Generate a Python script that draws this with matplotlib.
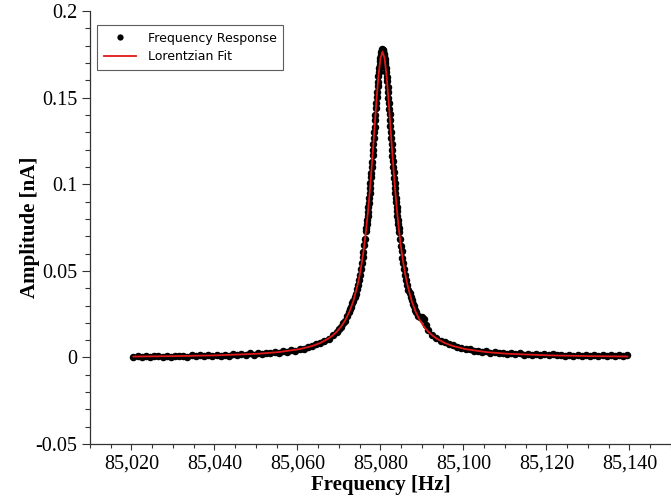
import matplotlib.pyplot as plt
from matplotlib.ticker import FixedLocator, MultipleLocator, FuncFormatter

freq_left_tail = [85020.5, 85021.5, 85022.5, 85023.5, 85024.5, 85025.5, 85026.5, 85027.5, 85028.5, 85029.5,
                  85030.5, 85031.5, 85032.5, 85033.5, 85034.5, 85035.5, 85036.5, 85037.5, 85038.5, 85039.5,
                  85040.5, 85041.5, 85042.5, 85043.5, 85044.5, 85045.5, 85046.5, 85047.5, 85048.5, 85049.5,
                  85050.5, 85051.5, 85052.5, 85053.5, 85054.5, 85055.5, 85056.5, 85057.5, 85058.5, 85059.5,
                  85060.5, 85061.5, 85062.5, 85063.5, 85064.5, 85065.5, 85066.5, 85067.5, 85068.5, 85069.5]
amp_left_tail = [0.0002, 0.0008, 0.0004, 0.0009, 0.0003, 0.0007, 0.0011, 0.0004, 0.0009, 0.0005,
                 0.0011, 0.0006, 0.0010, 0.0005, 0.0012, 0.0008, 0.0014, 0.0007, 0.0013, 0.0009,
                 0.0015, 0.0010, 0.0017, 0.0011, 0.0018, 0.0013, 0.0020, 0.0015, 0.0023, 0.0017,
                 0.0025, 0.0020, 0.0028, 0.0024, 0.0032, 0.0027, 0.0037, 0.0033, 0.0044, 0.0040,
                 0.0051, 0.0050, 0.0062, 0.0064, 0.0077, 0.0082, 0.0098, 0.0108, 0.0130, 0.0148]

freq_left_mid = [85070.0, 85070.5, 85071.0, 85071.5, 85072.0, 85072.5, 85072.75, 85073.0, 85073.25,
                 85073.5, 85073.75, 85074.0, 85074.25, 85074.5, 85074.75, 85075.0, 85075.25, 85075.5,
                 85075.7, 85075.9, 85076.1, 85076.3]
amp_left_mid = [0.0165, 0.0176, 0.0197, 0.0213, 0.0239, 0.0261, 0.0279, 0.0292, 0.0312,
                0.0327, 0.0350, 0.0368, 0.0395, 0.0417, 0.0448, 0.0475, 0.0512, 0.0544,
                0.0579, 0.0609, 0.0648, 0.0684]

freq_peak = [85076.5, 85076.6, 85076.7, 85076.8, 85076.9, 85077.0, 85077.1, 85077.2, 85077.3, 85077.4,
             85077.5, 85077.6, 85077.7, 85077.8, 85077.9, 85078.0, 85078.1, 85078.2, 85078.3, 85078.4,
             85078.5, 85078.6, 85078.7, 85078.8, 85078.9, 85079.0, 85079.1, 85079.2, 85079.3, 85079.4,
             85079.5, 85079.6, 85079.7, 85079.8, 85079.9, 85080.0, 85080.1, 85080.2, 85080.3, 85080.4,
             85080.5, 85080.6, 85080.7, 85080.8, 85080.9, 85081.0, 85081.1, 85081.2, 85081.3, 85081.4,
             85081.5, 85081.6, 85081.7, 85081.8, 85081.9, 85082.0, 85082.1, 85082.2, 85082.3, 85082.4,
             85082.5, 85082.6, 85082.7, 85082.8, 85082.9, 85083.0, 85083.1, 85083.2, 85083.3, 85083.4,
             85083.5, 85083.6, 85083.7, 85083.8, 85083.9, 85084.0, 85084.1, 85084.2, 85084.3, 85084.4,
             85084.5]
amp_peak = [0.0728, 0.0747, 0.0772, 0.0793, 0.0819, 0.0842, 0.0870, 0.0894, 0.0923, 0.0948,
            0.0980, 0.1006, 0.1040, 0.1067, 0.1102, 0.1131, 0.1167, 0.1197, 0.1234, 0.1265,
            0.1302, 0.1333, 0.1371, 0.1401, 0.1438, 0.1468, 0.1504, 0.1532, 0.1566, 0.1591,
            0.1622, 0.1645, 0.1671, 0.1690, 0.1712, 0.1727, 0.1745, 0.1762, 0.1771, 0.1778,
            0.1776, 0.1772, 0.1763, 0.1754, 0.1741, 0.1725, 0.1708, 0.1692, 0.1668, 0.1647,
            0.1619, 0.1594, 0.1562, 0.1535, 0.1500, 0.1471, 0.1435, 0.1404, 0.1368, 0.1336,
            0.1299, 0.1268, 0.1231, 0.1200, 0.1164, 0.1134, 0.1099, 0.1070, 0.1037, 0.1009,
            0.0977, 0.0951, 0.0921, 0.0896, 0.0867, 0.0844, 0.0817, 0.0795, 0.0770, 0.0749,
            0.0726]

freq_right_mid = [85084.7, 85084.9, 85085.1, 85085.3,
                  85085.5, 85085.75, 85086.0, 85086.25, 85086.5, 85086.75, 85087.0, 85087.25, 85087.5,
                  85087.75, 85088.0, 85088.25, 85088.5, 85089.0, 85089.5, 85090.0, 85090.5, 85091.0]
amp_right_mid = [0.0686, 0.0646, 0.0612, 0.0576,
                 0.0547, 0.0509, 0.0478, 0.0445, 0.0420, 0.0392, 0.0371, 0.0347, 0.0330,
                 0.0309, 0.0295, 0.0276, 0.0264, 0.0240, 0.0232, 0.0236, 0.0222, 0.0188]

freq_right_tail = [85091.5, 85092.5, 85093.5, 85094.5, 85095.5, 85096.5, 85097.5, 85098.5, 85099.5,
                   85100.5, 85101.5, 85102.5, 85103.5, 85104.5, 85105.5, 85106.5, 85107.5, 85108.5, 85109.5,
                   85110.5, 85111.5, 85112.5, 85113.5, 85114.5, 85115.5, 85116.5, 85117.5, 85118.5, 85119.5,
                   85120.5, 85121.5, 85122.5, 85123.5, 85124.5, 85125.5, 85126.5, 85127.5, 85128.5, 85129.5,
                   85130.5, 85131.5, 85132.5, 85133.5, 85134.5, 85135.5, 85136.5, 85137.5, 85138.5, 85139.5]
amp_right_tail = [0.0156, 0.0131, 0.0113, 0.0098, 0.0088, 0.0076, 0.0070, 0.0060, 0.0057,
                  0.0049, 0.0047, 0.0040, 0.0040, 0.0033, 0.0035, 0.0028, 0.0031, 0.0024, 0.0028,
                  0.0021, 0.0025, 0.0018, 0.0023, 0.0017, 0.0021, 0.0015, 0.0020, 0.0014, 0.0019,
                  0.0013, 0.0018, 0.0012, 0.0017, 0.0011, 0.0016, 0.0011, 0.0015, 0.0010, 0.0015,
                  0.0010, 0.0014, 0.0009, 0.0014, 0.0009, 0.0013, 0.0009, 0.0013, 0.0008, 0.0012]

# Lorentzian fit curve
fit_freq = [85020.5, 85030.5, 85040.5, 85050.5, 85055.5, 85060.5, 85063.5, 85065.5, 85067.5, 85068.5,
            85069.5, 85070.5, 85071.5, 85072.5, 85073.5, 85074.5, 85075.0, 85075.5, 85076.0, 85076.5,
            85077.0, 85077.5, 85078.0, 85078.5, 85079.0, 85079.5, 85080.0, 85080.5, 85081.0, 85081.5,
            85082.0, 85082.5, 85083.0, 85083.5, 85084.0, 85084.5, 85085.0, 85085.5, 85086.0, 85086.5,
            85087.5, 85088.5, 85089.5, 85090.5, 85091.5, 85092.5, 85093.5, 85095.5, 85097.5, 85100.5,
            85105.5, 85110.5, 85120.5, 85130.5, 85139.5]
fit_amp = [0.00055, 0.00079, 0.00123, 0.00217, 0.00311, 0.00481, 0.00659, 0.00837, 0.01097, 0.01274,
           0.01495, 0.01778, 0.02144, 0.02629, 0.03284, 0.04188, 0.04769, 0.05461, 0.06286, 0.07268,
           0.08430, 0.09786, 0.11328, 0.13005, 0.14697, 0.16203, 0.17265, 0.17650, 0.17265, 0.16203,
           0.14697, 0.13005, 0.11328, 0.09786, 0.08430, 0.07268, 0.06286, 0.05461, 0.04769, 0.04188,
           0.03284, 0.02629, 0.02144, 0.01778, 0.01495, 0.01274, 0.01097, 0.00837, 0.00659, 0.00481,
           0.00311, 0.00217, 0.00123, 0.00079, 0.00057]

freq = freq_left_tail + freq_left_mid + freq_peak + freq_right_mid + freq_right_tail
amp = amp_left_tail + amp_left_mid + amp_peak + amp_right_mid + amp_right_tail

x_ticks = [85020, 85040, 85060, 85080, 85100, 85120, 85140]
y_ticks = [-0.05, 0, 0.05, 0.1, 0.15, 0.2]

serif = 'Liberation Serif'

fig = plt.figure(figsize=(6.71, 4.99), dpi=100)
ax = fig.add_axes([0.134, 0.110, 0.866, 0.868])

ax.plot(freq, amp, 'o', color='black', markersize=5.4, markeredgewidth=0,
        label='Frequency Response', zorder=2)
ax.plot(fit_freq, fit_amp, '-', color='#e01818', linewidth=1.3, label='Lorentzian Fit', zorder=3)

ax.set_xlim(85010, 85150)
ax.set_ylim(-0.05, 0.2)

for side in ['top', 'right']:
    ax.spines[side].set_visible(False)
for side in ['left', 'bottom']:
    ax.spines[side].set_color('#333333')
    ax.spines[side].set_linewidth(0.9)

ax.xaxis.set_major_locator(FixedLocator(x_ticks))
ax.xaxis.set_minor_locator(MultipleLocator(5))
ax.yaxis.set_major_locator(FixedLocator(y_ticks))
ax.yaxis.set_minor_locator(MultipleLocator(0.01))
ax.xaxis.set_major_formatter(FuncFormatter(lambda v, p: f'{v:,.0f}'))
ax.yaxis.set_major_formatter(FuncFormatter(lambda v, p: f'{round(v, 3):g}'))

ax.tick_params(axis='both', which='both', direction='out', color='#333333', width=0.8)
ax.tick_params(axis='y', which='major', length=6, pad=3)
ax.tick_params(axis='y', which='minor', length=3.5)
ax.tick_params(axis='x', which='major', length=4.5, pad=3)
ax.tick_params(axis='x', which='minor', length=3)

for lab in ax.get_xticklabels() + ax.get_yticklabels():
    lab.set_fontfamily(serif)
    lab.set_fontsize(14.5)

ax.set_xlabel('Frequency [Hz]', fontfamily=serif, fontweight='bold', fontsize=15, labelpad=1)
ax.set_ylabel('Amplitude [nA]', fontfamily=serif, fontweight='bold', fontsize=15, labelpad=-3)

leg = ax.legend(loc='upper left', bbox_to_anchor=(0.012, 0.968), borderaxespad=0,
                fancybox=False, frameon=True, numpoints=1, handlelength=2.6,
                handletextpad=0.9, labelspacing=0.45, borderpad=0.55,
                prop={'family': 'DejaVu Sans', 'size': 9})
leg.get_frame().set_edgecolor('#333333')
leg.get_frame().set_linewidth(0.8)
for h in leg.legend_handles:
    try:
        h.set_markersize(4.5)
    except AttributeError:
        pass

fig.savefig('out.png', dpi=100)
plt.close(fig)
